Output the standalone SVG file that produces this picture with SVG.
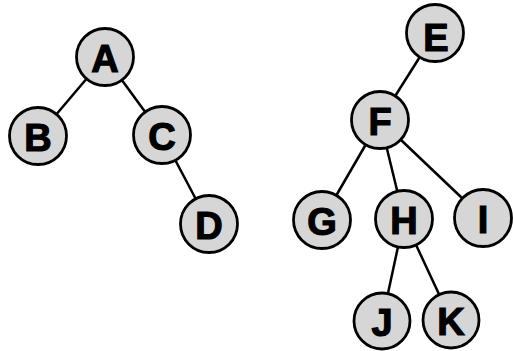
<svg xmlns="http://www.w3.org/2000/svg" width="513" height="351" viewBox="0 0 513 351">
<style>
.edge{stroke:#000;stroke-width:2.5;fill:none}
.node circle{fill:#d6d6d6;stroke:#000;stroke-width:2.8}
.node text{font-family:"Liberation Sans",Arial,sans-serif;font-weight:bold;font-size:38px;fill:#000;stroke:#000;stroke-width:1.2;text-anchor:middle;dominant-baseline:central}
</style>
<rect width="513" height="351" fill="#fff"/>
<g id="edges">
<line class="edge" x1="105" y1="57" x2="38" y2="136"/>
<line class="edge" x1="105" y1="57" x2="162" y2="135"/>
<line class="edge" x1="162" y1="135" x2="209" y2="224"/>
<line class="edge" x1="435" y1="33" x2="380" y2="120"/>
<line class="edge" x1="380" y1="120" x2="322" y2="220"/>
<line class="edge" x1="380" y1="120" x2="404" y2="219"/>
<line class="edge" x1="380" y1="120" x2="483" y2="218"/>
<line class="edge" x1="404" y1="219" x2="382" y2="321"/>
<line class="edge" x1="404" y1="219" x2="451" y2="320"/>
</g>
<g id="A" class="node"><circle cx="105" cy="57" r="28.5"/><text x="105" y="59">A</text></g>
<g id="B" class="node"><circle cx="38" cy="136" r="28.5"/><text x="38" y="138">B</text></g>
<g id="C" class="node"><circle cx="162" cy="135" r="28.5"/><text x="162" y="137">C</text></g>
<g id="D" class="node"><circle cx="209" cy="224" r="28.5"/><text x="209" y="226">D</text></g>
<g id="E" class="node"><circle cx="435" cy="33" r="28.5"/><text x="436" y="38">E</text></g>
<g id="F" class="node"><circle cx="380" cy="120" r="28.5"/><text x="380" y="122">F</text></g>
<g id="G" class="node"><circle cx="322" cy="220" r="28.5"/><text x="322" y="222">G</text></g>
<g id="H" class="node"><circle cx="404" cy="219" r="28.5"/><text x="404" y="221">H</text></g>
<g id="I" class="node"><circle cx="483" cy="218" r="28.5"/><text x="483" y="220">I</text></g>
<g id="J" class="node"><circle cx="382" cy="321" r="28"/><text x="382" y="323">J</text></g>
<g id="K" class="node"><circle cx="451" cy="320" r="28"/><text x="451" y="322">K</text></g>
</svg>
